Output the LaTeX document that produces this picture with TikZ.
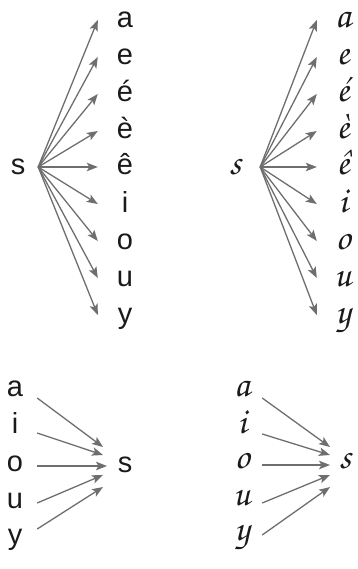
\documentclass[tikz,border=0pt]{standalone}
\usepackage{fontspec}
\setmainfont{Liberation Sans}
\newfontfamily\cursivefont{TeX Gyre Chorus}
\usetikzlibrary{arrows.meta}
\definecolor{arrowgray}{HTML}{6E6E6E}
\definecolor{ink}{HTML}{1A1A1A}
\begin{document}
\begin{tikzpicture}[x=1pt,y=-1pt,
  arr/.style={draw=arrowgray, line width=1.3pt, -{Stealth[length=11pt,width=8.5pt,inset=2.5pt]}},
  sans/.style={font=\fontsize{29}{29}\selectfont, text=ink, inner sep=0pt, text height=16pt, text depth=0pt, anchor=base},
  curs/.style={font=\cursivefont\fontsize{37}{37}\selectfont, text=ink, inner sep=0pt, text height=16pt, text depth=0pt, anchor=base}]
\useasboundingbox (0,0) rectangle (357,569);
% top left
\node[sans, minimum width=40pt] (ls) at (18,175) {s};
\foreach \n/\t/\y in {la/a/28, le/e/65, lea/é/102, leg/è/139, lec/ê/175, li/i/212, lo/o/249, lu/u/286, ly/y/323}{
  \node[sans, minimum width=54pt] (\n) at (125,\y) {\t};
  \draw[arr] (ls.east) -- (\n.west);
}
% top right
\node[curs, minimum width=50pt] (rs) at (235,175) {s};
\foreach \n/\t/\y in {ra/a/28, re/e/65, rea/é/102, reg/è/139, rec/ê/175, ri/i/212, ro/o/249, ru/u/286, ry/y/323}{
  \node[curs, minimum width=52pt] (\n) at (343,\y) {\t};
  \draw[arr] (rs.east) -- (\n.west);
}
% bottom left
\node[sans] (bs) at (125,472) {s};
\coordinate (bt1) at (103,447);
\coordinate (bt2) at (103,455);
\coordinate (bt3) at (107,466);
\coordinate (bt4) at (103,475);
\coordinate (bt5) at (103,487);
\foreach \n/\t/\y/\s/\k in {ba/a/396/-10/1, bi/i/433/-8/2, bo/o/471/-3/3, bu/u/508/-3/4, by/y/544/7/5}{
  \node[sans, minimum width=44pt] (\n) at (15,\y) {\t};
  \draw[arr] ([yshift=\s pt]\n.east) -- (bt\k);
}
% bottom right
\node[curs] (cs) at (345,468) {s};
\coordinate (ct1) at (330,447);
\coordinate (ct2) at (330,455);
\coordinate (ct3) at (330,465);
\coordinate (ct4) at (330,475);
\coordinate (ct5) at (330,487);
\foreach \n/\t/\y/\s/\k in {ca/a/396/-10/1, ci/i/433/-9/2, co/o/468/-5/3, cu/u/505/-6/4, cy/y/540/-3/5}{
  \node[curs, minimum width=40pt] (\n) at (242,\y) {\t};
  \draw[arr] ([yshift=\s pt]\n.east) -- (ct\k);
}
\end{tikzpicture}
\end{document}
